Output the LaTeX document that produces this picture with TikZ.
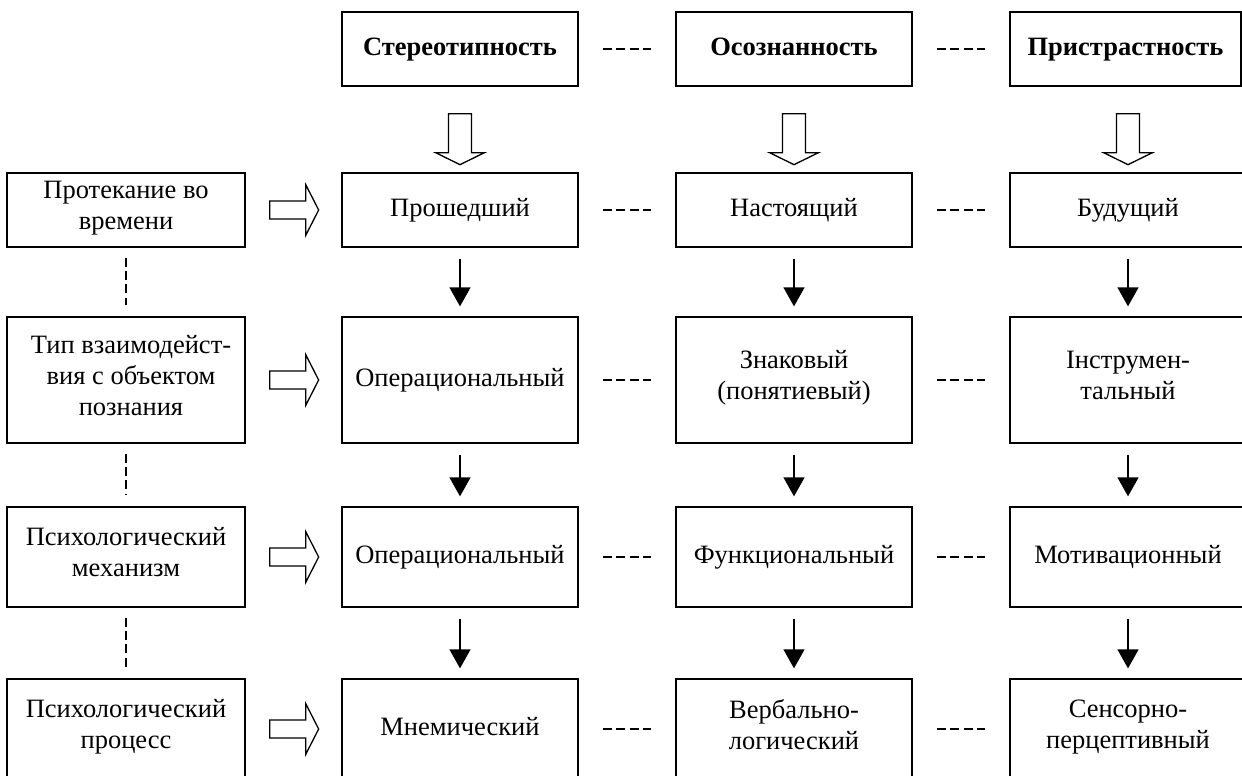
\documentclass[tikz,border=0pt]{standalone}
\usepackage{fontspec}
\setmainfont{Liberation Serif}
\usetikzlibrary{arrows.meta}
\begin{document}
\begin{tikzpicture}[x=1pt,y=-1pt,
  box/.style={draw, line width=1.3pt, inner sep=0pt, minimum width=236pt, align=center,
    font=\fontsize{26.5}{31}\selectfont, execute at begin node=\strut, execute at end node=\strut},
  lbox/.style={box, minimum width=238pt},
  hbox/.style={box, minimum height=74pt, font=\fontsize{26.5}{31}\selectfont\bfseries},
  rA/.style={minimum height=74pt},
  rB/.style={minimum height=126pt},
  rC/.style={minimum height=100pt},
  rD/.style={minimum height=100pt},
  hdash/.style={line width=1.3pt, dash pattern=on 9pt off 4.33pt, shorten <=24.5pt, shorten >=24.5pt},
  vdash/.style={line width=1.3pt, dash pattern=on 9pt off 4.3pt, shorten <=10pt, shorten >=11pt},
  flow/.style={line width=1.3pt, -{Triangle[length=19pt,width=21pt]}, shorten <=11pt, shorten >=10pt},
  darrow/.pic={\draw[line width=1.3pt, line join=miter, fill=white]
     (-11.5,0) -- (-11.5,39) -- (-24.5,39) -- (0,51) -- (24.5,39) -- (11.5,39) -- (11.5,0) -- cycle;},
  rarrow/.pic={\draw[line width=1.3pt, line join=miter, fill=white]
     (0,-9) -- (36,-9) -- (36,-25.5) -- (49,0) -- (36,25.5) -- (36,9) -- (0,9) -- cycle;}
]
\useasboundingbox (0,0) rectangle (1242,776);
\clip (0,0) rectangle (1242,776);

% headers
\node[hbox] (h1) at (460,49) {Стереотипность};
\node[hbox] (h2) at (794,49) {Осознанность};
\node[hbox, minimum width=231pt] (h3) at (1125.5,49) {Пристрастность};

% left column
\node[lbox, rA] (l1) at (126,210) {Протекание во\\времени};
\node[lbox, rB] (l2) at (126,380) {\hspace*{10pt}Тип взаимодейст-\\\hspace*{10pt}вия с объектом\\\hspace*{10pt}познания};
\node[lbox, rC] (l3) at (126,557) {Психологический\\механизм};
\node[lbox, rD] (l4) at (126,729) {Психологический\\процесс};

% column 1
\node[box, rA] (a1) at (460,210) {Прошедший};
\node[box, rB] (a2) at (460,380) {Операциональный};
\node[box, rC] (a3) at (460,557) {Операциональный};
\node[box, rD] (a4) at (460,729) {Мнемический};

% column 2
\node[box, rA] (b1) at (794,210) {Настоящий};
\node[box, rB] (b2) at (794,380) {Знаковый\\(понятиевый)};
\node[box, rC] (b3) at (794,557) {Функциональный};
\node[box, rD] (b4) at (794,729) {Вербально-\\логический};

% column 3
\node[box, rA] (c1) at (1128,210) {Будущий};
\node[box, rB] (c2) at (1128,380) {Інструмен-\\тальный};
\node[box, rC] (c3) at (1128,557) {Мотивационный};
\node[box, rD] (c4) at (1128,729) {Сенсорно-\\перцептивный};

% horizontal dashed links
\foreach \p/\q in {h1/h2,h2/h3,a1/b1,b1/c1,a2/b2,b2/c2,a3/b3,b3/c3,a4/b4,b4/c4}
  \draw[hdash] (\p.east) -- (\q.west);

% vertical dashed links (left column)
\foreach \p/\q in {l1/l2,l2/l3,l3/l4}
  \draw[vdash] (\p.south) -- (\q.north);

% flow arrows
\foreach \c in {a,b,c}{
  \draw[flow] (\c1.south) -- (\c2.north);
  \draw[flow] (\c2.south) -- (\c3.north);
  \draw[flow] (\c3.south) -- (\c4.north);
}

% block arrows down
\pic at ([yshift=-27pt]h1.south) {darrow};
\pic at ([yshift=-27pt]h2.south) {darrow};
\pic at ([yshift=-27pt]h3.south -| c1.south) {darrow};

% block arrows right
\foreach \r in {1,2,3,4}
  \pic at ([xshift=24pt]l\r.east) {rarrow};
\end{tikzpicture}
\end{document}
